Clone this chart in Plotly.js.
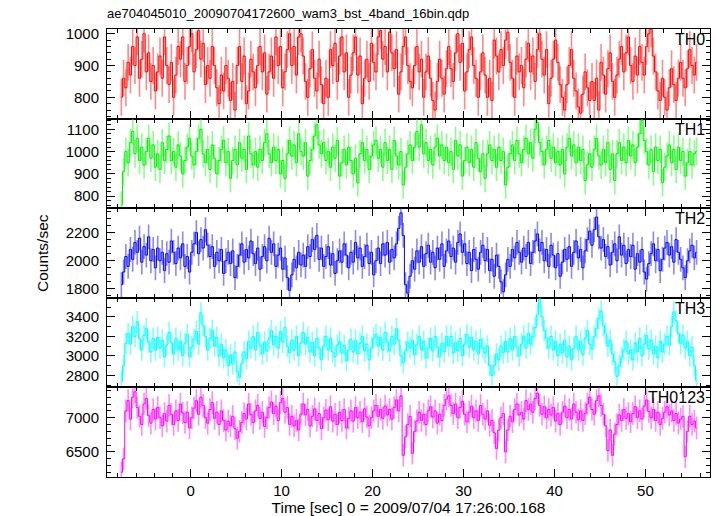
<!DOCTYPE html>
<html>
<head>
<meta charset="utf-8">
<script src="https://cdn.plot.ly/plotly-3.0.1.min.js"></script>
<style>html,body{margin:0;padding:0;background:#fff;}#chart{width:717px;height:516px;}</style>
</head>
<body>
<div id="chart"></div>
<script>
// ---- data ----
const binStart = -7.625;   // seconds, centre of first bin
const binWidth = 0.25;     // seconds
const bandNames = ["TH0", "TH1", "TH2", "TH3", "TH0123"];
const bandErrors = [58, 62, 88, 110, 165];

const th0 = [
800,860,830,910,870,960,900,990,860,920,1000,880,940,850,900,820,
880,930,860,990,900,840,910,800,870,960,920,990,850,900,960,1000,
880,950,1010,920,970,840,900,860,960,900,830,780,870,820,900,860,
790,850,760,900,960,850,930,780,820,920,880,830,900,960,880,940,
810,880,930,860,990,900,960,830,880,950,1000,900,960,870,990,1000,
930,850,800,890,950,860,820,920,840,780,860,800,950,900,970,850,
930,990,880,940,800,870,940,990,870,930,780,860,920,850,970,910,
880,990,1010,920,960,880,1005,940,890,950,810,880,960,990,900,850,
830,900,960,880,920,800,880,930,860,790,760,850,920,860,810,890,
960,890,850,940,1000,910,970,820,880,950,990,900,860,800,880,940,
870,800,860,790,980,930,880,950,900,980,1005,910,860,800,930,880,
900,830,920,970,880,930,850,950,1000,920,870,950,780,860,920,980,
910,840,800,760,840,900,950,860,820,770,750,810,880,830,790,850,
790,860,760,910,870,810,890,940,850,800,870,920,960,880,940,990,
900,850,930,870,960,910,870,960,1000,1015,930,880,820,790,860,800,
760,830,890,840,790,860,910,860,830,890,950,900,870,910
];
const th1 = [
760,910,1000,950,1040,1090,990,1060,960,1020,940,1000,1060,970,1030,930,
990,920,1040,960,1010,1070,960,1000,930,1030,980,900,960,1020,1060,980,
940,1000,1060,1100,990,950,1010,920,1030,970,900,960,1010,1050,950,1000,
880,960,1010,940,1040,970,1010,920,1070,990,940,1000,930,1010,960,1040,
1080,990,950,1020,960,1010,900,960,880,990,1050,980,1030,950,1080,1000,
980,1040,890,960,1010,1070,1120,1030,990,1040,960,1000,930,1020,970,1050,
890,950,1010,940,1020,960,900,970,860,990,1040,960,1010,920,980,1030,
1050,970,1010,930,1040,960,1010,920,1050,980,940,1000,850,930,990,1030,
960,1020,1090,1020,1120,990,1040,960,1010,940,1020,1060,980,1030,960,1020,
950,1000,920,1050,980,1030,890,960,1020,950,1010,930,1040,970,910,990,
880,990,1030,960,1010,930,1020,960,1000,850,930,990,1030,960,1050,990,
950,1010,1060,990,1040,970,1100,1130,1040,1000,940,1010,1050,970,1020,950,
1000,940,1010,900,1020,1060,980,1030,950,1020,960,1010,870,940,990,930,
1010,1060,980,940,1010,950,1040,920,990,870,990,1040,960,1020,950,1050,
980,1030,950,1020,1080,1140,1050,1000,940,1010,910,1020,960,1010,860,930,
980,1030,950,1010,920,1020,960,1000,890,950,1000,940,990,1000
];
const th2 = [
1830,1920,2030,1960,2080,2010,2130,2060,2160,1990,2100,2040,2170,2000,2080,1950,
2090,2000,2060,1930,2050,1990,2140,2060,1980,2090,2020,2120,1960,2030,1920,2060,
2120,2200,2050,2150,2090,2220,2110,2030,2100,1960,2060,2000,2080,1910,2000,2060,
1980,2070,1880,1960,2040,2120,1990,2080,2020,2140,2050,1980,2090,1940,2030,2100,
2000,2160,2060,2120,1960,2040,2090,1940,2020,1880,1790,1900,2010,1950,2060,1970,
2040,1960,2100,2030,2150,2080,2180,2010,2090,1960,2030,2100,1970,2050,1910,2000,
2070,1990,2120,2040,1950,2060,1990,2130,2020,2090,1960,2030,2110,1980,2060,1900,
2000,2090,1980,2120,2040,2130,1990,2080,2020,2120,2230,2340,2180,1830,1770,1890,
2000,1940,2070,1990,2100,1960,2050,2110,1990,2060,1950,2090,2010,2120,1960,2070,
2140,2030,2090,1990,2130,2190,2060,2120,1980,2060,1930,2080,2010,1940,2060,2110,
2000,2080,1930,2010,1890,2040,1960,1850,1780,1900,2010,1960,2080,2020,2130,2060,
1990,2090,2030,2130,1980,2060,2140,2190,2070,2130,2000,2080,1960,2110,2040,1950,
2050,1890,1990,2080,2010,2100,1960,2060,2140,2020,2080,1950,2070,2150,2210,2110,
2220,2310,2170,2090,2150,2030,2100,1970,2060,2120,2000,2170,2040,2110,1980,2080,
2030,2110,1940,2050,1990,2080,1920,1870,1980,2050,2120,2000,2080,1930,2010,2090,
2130,2040,2100,1990,2150,2060,2010,1950,1880,2000,2070,2110,2020,2060
];
const th3 = [
2740,2900,3130,3230,3120,3300,3200,3350,3180,3060,3210,3280,3140,3040,3180,3060,
3190,3080,3160,2990,3110,3240,3140,3020,3180,3060,3150,3000,3130,3220,2990,3090,
3170,3250,3120,3440,3310,3200,3060,3180,3260,3100,3190,3000,3120,2980,3060,2900,
3010,2920,3040,2840,2780,2920,3040,2970,3150,3080,3200,3060,3240,3110,3020,3140,
3050,3180,3260,3110,3200,3080,3250,3140,3290,3100,3030,3160,3060,3200,3000,3130,
3240,3120,3190,3040,3140,3000,3180,3080,2960,3100,3200,3060,3180,3040,2990,3110,
3150,3030,3110,2950,3060,3170,3040,3160,3020,3130,3200,3050,3120,2960,3080,3180,
3220,3100,3190,3060,3240,3140,3050,3200,3120,3280,3160,3000,2930,3050,3140,3080,
3160,3010,3120,3200,3060,3150,2980,3080,3180,3050,3200,3090,2990,3130,3040,3200,
3100,3200,3030,3140,3050,3180,3000,3120,3220,3090,3190,3060,3150,3020,3170,3080,
3030,3100,2900,2800,2900,3020,2960,3100,3030,3150,3040,3180,3060,3200,3090,3000,
3120,3200,3080,3230,3120,3200,3290,3420,3580,3400,3260,3180,3080,3200,3060,3150,
3000,3120,3030,3160,2990,3100,2960,3080,3200,3060,3150,3010,3180,3260,3120,3070,
3200,3280,3380,3460,3310,3230,3100,3160,3020,2940,2790,2900,2980,3060,3150,3020,
3060,2960,3130,3040,3180,3000,3120,3210,3070,3160,3020,3100,2980,3150,3040,3120,
3200,3110,3300,3450,3360,3230,3130,3210,3080,3150,3000,3090,2900,2750
];
const th0123 = [
6200,6400,7100,7250,6980,7300,7380,7150,7020,6900,7200,7280,7030,6920,7120,6980,
7150,7000,6880,7060,6950,7180,7050,6900,7100,6960,7200,7070,6930,7080,6850,7000,
7140,7250,7050,7300,7180,7000,6920,7120,7220,6990,7080,6900,7100,6960,6820,6950,
6880,7020,6840,6700,6800,6930,7060,6980,7200,7050,6930,7100,7180,6990,7080,6870,
7000,7150,7230,7060,7170,6960,7220,7280,7080,7150,6900,7020,6880,6960,6820,7050,
7200,7040,7120,6880,7020,7130,6960,7060,6840,7000,7110,6970,7160,6950,7050,6900,
7080,6960,7120,6850,6990,7100,6950,7150,7000,7080,6940,7130,7010,6880,7000,7100,
7180,7020,7120,6990,7170,7040,7120,6980,7150,7260,7100,7320,6450,6720,6900,7020,
6480,6800,6950,7080,6960,7050,6900,7100,7160,7010,7100,6920,7050,6960,7180,7270,
7320,7180,7060,7200,7000,7150,7240,7050,6940,7080,7170,7000,7100,6960,7180,7050,
6980,7100,6890,6960,6780,6550,6820,7000,7060,6500,6820,7020,6940,7120,7200,7040,
7080,6980,7250,7120,7200,7080,7280,7360,7180,7050,7160,7000,7120,7040,7150,6950,
7060,6900,7080,7170,7000,7120,6980,7200,7080,6970,7100,6960,7060,7200,7300,7120,
7050,7250,7320,7180,7050,6880,6520,6820,6450,6760,6900,7040,6960,7120,6990,7060,
6940,7060,7160,7000,7100,6980,7170,7260,7090,7000,7120,6960,7080,6900,6990,7080,
7160,7040,7100,6960,7060,6920,6980,7020,6430,6800,7020,6900,6950,6850
];
const bandValues = [th0, th1, th2, th3, th0123];

// ---- style ----
const colors = ["#ff0000", "#00ee00", "#0000ff", "#00ffff", "#ff00ff"];
const errColors = ["rgba(255,40,40,0.55)", "rgba(40,255,40,0.55)", "rgba(40,40,230,0.55)", "rgba(40,255,255,0.6)", "rgba(255,40,255,0.55)"];
const yRanges = [[733, 1015], [746, 1148], [1737, 2373], [2677, 3595], [6133, 7443]];
const yDticks = [100, 100, 200, 200, 500];
const yMinor = [20, 20, 50, 100, 100];
const FONT = "Liberation Sans, Arial, Helvetica, sans-serif";
const TICK_SIZE = 15;
const AXTITLE_SIZE = 15.5;

const time = th0.map((_, i) => binStart + i * binWidth);

const traces = [];
const layout = {
  width: 717, height: 516,
  paper_bgcolor: "#fff", plot_bgcolor: "#fff",
  margin: {l: 107, r: 7, t: 29, b: 39, pad: 0},
  showlegend: false,
  font: {family: FONT, size: 14, color: "#000"},
  title: {
    text: "ae704045010_20090704172600_wam3_bst_4band_16bin.qdp",
    font: {family: FONT, size: 13, color: "#000"},
    xref: "paper", x: 0, xanchor: "left",
    yref: "container", y: 1 - 13 / 516, yanchor: "middle"
  },
  annotations: []
};

const n = bandNames.length;
for (let k = 0; k < n; k++) {
  const idx = k + 1;
  const xa = idx === 1 ? "x" : "x" + idx;
  const ya = idx === 1 ? "y" : "y" + idx;
  traces.push({
    type: "scatter", mode: "lines",
    x: time, y: bandValues[k],
    xaxis: xa, yaxis: ya,
    line: {color: colors[k], width: 1, shape: "hvh"},
    error_y: {type: "constant", value: bandErrors[k], visible: true, thickness: 1.6, width: 0, color: errColors[k]},
    hoverinfo: "skip"
  });
  const top = 1 - k / n, bot = 1 - (k + 1) / n;
  const isBottom = k === n - 1;
  layout[idx === 1 ? "xaxis" : "xaxis" + idx] = {
    anchor: ya,
    matches: idx === 1 ? undefined : "x",
    range: [-9.2, 57.1],
    tick0: 0, dtick: 10,
    ticks: "inside", ticklen: 8, tickwidth: 1, tickcolor: "#000",
    minor: {dtick: 2, ticks: "inside", ticklen: 4, tickcolor: "#000", tickwidth: 1},
    showticklabels: isBottom,
    tickfont: {family: FONT, size: TICK_SIZE, color: "#000"},
    showline: true, linecolor: "#000", linewidth: 1, mirror: "allticks",
    showgrid: false, zeroline: false,
    title: isBottom ? {text: "Time [sec] 0 = 2009/07/04 17:26:00.168", font: {family: FONT, size: AXTITLE_SIZE, color: "#000"}, standoff: 4} : undefined
  };
  layout[idx === 1 ? "yaxis" : "yaxis" + idx] = {
    anchor: xa,
    domain: [bot, top],
    range: yRanges[k],
    dtick: yDticks[k],
    ticks: "inside", ticklen: 8, tickwidth: 1, tickcolor: "#000",
    minor: {dtick: yMinor[k], ticks: "inside", ticklen: 4, tickcolor: "#000", tickwidth: 1},
    tickfont: {family: FONT, size: TICK_SIZE, color: "#000"},
    ticklabelstandoff: 4,
    showline: true, linecolor: "#000", linewidth: 1, mirror: "allticks",
    showgrid: false, zeroline: false
  };
  layout.annotations.push({
    text: bandNames[k], showarrow: false,
    xref: "paper", yref: "paper", x: 1, y: top,
    xanchor: "right", yanchor: "top", xshift: -3, yshift: 0,
    font: {family: FONT, size: 16, color: "#000"}
  });
}
layout.annotations.push({
  text: "Counts/sec", showarrow: false, textangle: -90,
  xref: "paper", yref: "paper", x: 0, y: 0.5,
  xanchor: "center", yanchor: "middle", xshift: -65,
  font: {family: FONT, size: AXTITLE_SIZE, color: "#000"}
});

Plotly.newPlot("chart", traces, layout, {displayModeBar: false, staticPlot: true});
</script>
</body>
</html>
